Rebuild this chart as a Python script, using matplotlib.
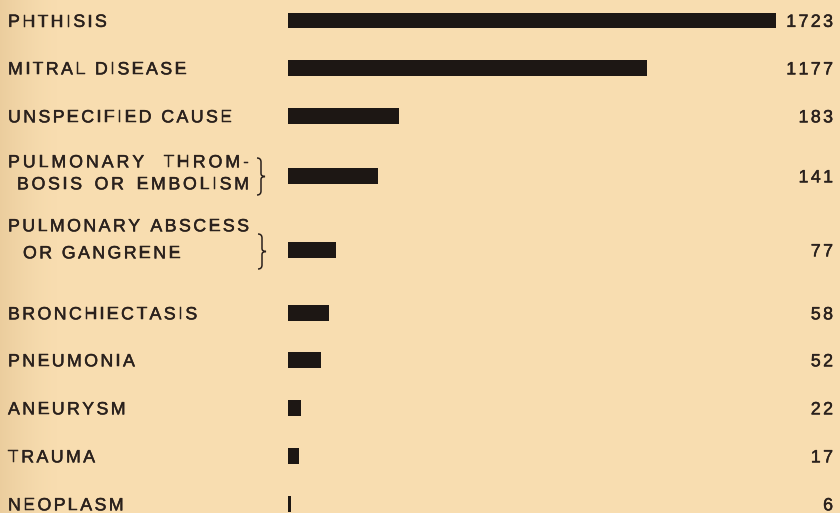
import numpy as np
import matplotlib
matplotlib.use("Agg")
import matplotlib.pyplot as plt
import matplotlib.patheffects as pe
from matplotlib.path import Path
from matplotlib.patches import PathPatch
from matplotlib.textpath import TextToPath
from matplotlib.font_manager import FontProperties
from matplotlib.colors import to_rgb

# data
causes = [
    ["PHTHISIS"],
    ["MITRAL DISEASE"],
    ["UNSPECIFIED CAUSE"],
    ["PULMONARY THROM-", "BOSIS OR EMBOLISM"],
    ["PULMONARY ABSCESS", "OR GANGRENE"],
    ["BRONCHIECTASIS"],
    ["PNEUMONIA"],
    ["ANEURYSM"],
    ["TRAUMA"],
    ["NEOPLASM"],
]
deaths = [1723, 1177, 183, 141, 77, 58, 52, 22, 17, 6]
# bar lengths as drawn on the plate (px); the two long bars are drawn at a reduced scale
bar_len = [488, 359, 111, 90, 48, 41, 33, 13, 11, 3]

W, H, DPI = 840, 513, 100
BG = "#f8ddb0"
INK = "#2a211d"
BAR = "#1d1714"
FS = 12.8       # pt
TRACK = 2.4     # extra letter spacing, px
BAR_X0 = 288
VAL_X1 = 833

# layout: bar centres and label line centres (px from top)
row_y = [20.5, 68, 116, 176, 250, 313, 360, 408, 456, 504]
two_line_y = {3: [161, 183], 4: [225, 252]}
two_line_x2 = {3: 17, 4: 23}
# right edge for each line of the two-line labels (None = ragged)
two_line_right = {3: [249, 249], 4: [249, None]}
braces = {3: (257, 158, 195), 4: (258, 234, 269)}

fig = plt.figure(figsize=(W / DPI, H / DPI), dpi=DPI, facecolor=BG)
ax = fig.add_axes([0, 0, 1, 1])
ax.axis("off")
ax.set_facecolor(BG)

# slightly darker paper at the left edge
shade = np.zeros((1, 60, 4))
shade[..., :3] = to_rgb("#d9b783")
shade[..., 3] = np.linspace(0.55, 0, 60) ** 1.5
ax.imshow(shade, extent=[0, 60, H, 0], aspect="auto", zorder=0)
ax.set_xlim(0, W)
ax.set_ylim(H, 0)

fp = FontProperties(family="Liberation Sans", size=FS)
t2p = TextToPath()
PX = DPI / 72
CAP = 0.716 * FS * PX
heavy = [pe.withStroke(linewidth=0.35, foreground=INK)]


def adv(c):
    a = t2p.get_text_width_height_descent("H" + c + "H", fp, ismath=False)[0]
    b = t2p.get_text_width_height_descent("HH", fp, ismath=False)[0]
    return (a - b) * PX


def spaced(x, yc, s, ha="left", right=None):
    ws = [adv(c) for c in s]
    total = sum(ws) + TRACK * (len(s) - 1)
    if ha == "right":
        x -= total
    # stretch a justified line: half into word gaps, half into letter gaps
    word_extra = letter_extra = 0
    if right is not None:
        slack = right - x - total
        word_extra = 0.5 * slack / max(s.count(" "), 1)
        letter_extra = 0.5 * slack / (len(s) - 1)
    for c, w in zip(s, ws):
        if c != " ":
            ax.text(x, yc + CAP / 2, c, fontproperties=fp, color=INK,
                    va="baseline", ha="left", zorder=3, path_effects=heavy)
        else:
            x += word_extra
        x += w + TRACK + letter_extra


def brace(x, top, bot, w=8):
    m = (top + bot) / 2
    xm = x + w / 2
    verts = [(x, top), (xm, top), (xm, top + 4),
             (xm, m - 3),
             (xm, m), (x + w, m),
             (xm, m), (xm, m + 3),
             (xm, bot - 4),
             (xm, bot), (x, bot)]
    codes = [Path.MOVETO, Path.CURVE3, Path.CURVE3,
             Path.LINETO,
             Path.CURVE3, Path.CURVE3,
             Path.CURVE3, Path.CURVE3,
             Path.LINETO,
             Path.CURVE3, Path.CURVE3]
    ax.add_patch(PathPatch(Path(verts, codes), fill=False, edgecolor=INK,
                           lw=1.1, zorder=3))


ax.barh(row_y, bar_len, left=BAR_X0, height=15.5, color=BAR, zorder=2)

for i, (lines, v) in enumerate(zip(causes, deaths)):
    if len(lines) == 1:
        spaced(8, row_y[i], lines[0])
    else:
        y1, y2 = two_line_y[i]
        r1, r2 = two_line_right[i]
        spaced(8, y1, lines[0], right=r1)
        spaced(two_line_x2[i], y2, lines[1], right=r2)
        brace(*braces[i])
    spaced(VAL_X1, row_y[i], str(v), ha="right")

fig.savefig("out.png", dpi=DPI, facecolor=BG)
